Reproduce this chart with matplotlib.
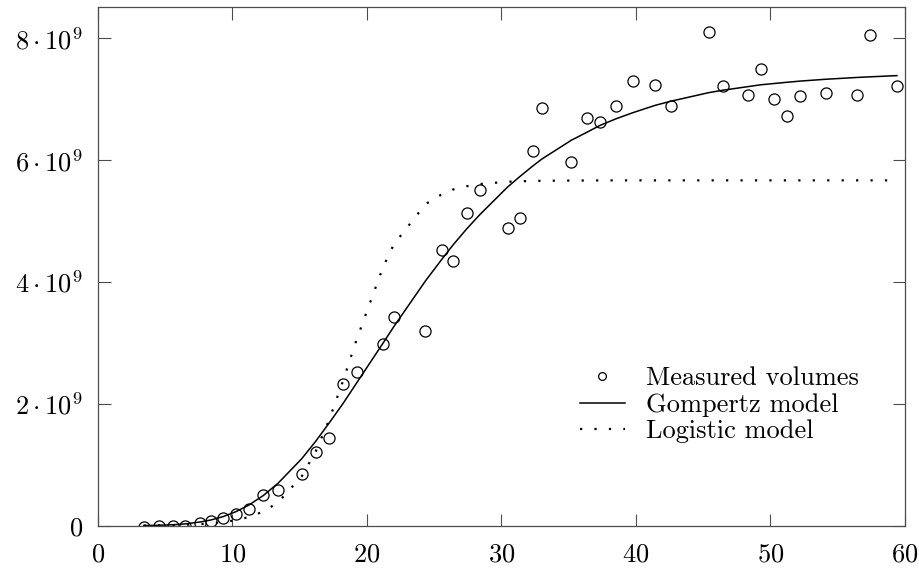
import matplotlib
matplotlib.use('Agg')
import matplotlib.pyplot as plt

plt.rcParams['font.family'] = 'serif'
plt.rcParams['font.serif'] = ['cmr10']
plt.rcParams['mathtext.fontset'] = 'cm'
plt.rcParams['axes.unicode_minus'] = False

# measured tumour volumes (time, volume in units of 1e9)
days = [3.4, 4.5, 5.6, 6.5, 7.6, 8.4, 9.3, 10.25, 11.2, 12.3, 13.4, 15.15, 16.2, 17.2,
        18.2, 19.25, 21.2, 22.0, 24.35, 25.55, 26.4, 27.4, 28.4, 30.45, 31.35, 32.35,
        33.0, 35.2, 36.35, 37.3, 38.5, 39.75, 41.4, 42.6, 45.4, 46.45, 48.35, 49.3,
        50.25, 51.2, 52.2, 54.1, 56.45, 57.4, 59.4]
measured = [-0.02, 0.0, 0.0, 0.0, 0.04, 0.08, 0.13, 0.2, 0.28, 0.5, 0.58, 0.85, 1.21, 1.44,
            2.32, 2.52, 2.99, 3.42, 3.2, 4.53, 4.35, 5.13, 5.52, 4.88, 5.06, 6.15,
            6.86, 5.97, 6.69, 6.63, 6.89, 7.3, 7.24, 6.89, 8.1, 7.22, 7.07, 7.5,
            7.01, 6.73, 7.06, 7.1, 7.07, 8.06, 7.22]
# model values at the same times
gompertz = [0.002, 0.007, 0.016, 0.03, 0.061, 0.094, 0.149, 0.23, 0.336, 0.497, 0.70, 1.10,
            1.39, 1.69, 2.0, 2.35, 3.0, 3.27, 4.02, 4.37, 4.61, 4.87, 5.11, 5.56, 5.73,
            5.91, 6.02, 6.33, 6.46, 6.57, 6.68, 6.78, 6.9, 6.97, 7.11, 7.15, 7.21, 7.24,
            7.26, 7.28, 7.3, 7.33, 7.36, 7.37, 7.39]
logistic = [0.004, 0.006, 0.01, 0.015, 0.026, 0.038, 0.058, 0.09, 0.14, 0.233, 0.384, 0.812,
            1.226, 1.745, 2.366, 3.07, 4.25, 4.62, 5.28, 5.44, 5.52, 5.573, 5.61, 5.647,
            5.655, 5.661, 5.663, 5.667, 5.668, 5.669, 5.67, 5.67, 5.67, 5.67, 5.67, 5.67,
            5.67, 5.67, 5.67, 5.67, 5.67, 5.67, 5.67, 5.67, 5.67]

scale = 1e9
fig = plt.figure(figsize=(9.2, 5.69), dpi=100)
ax = fig.add_axes([0.1065, 0.0761, 0.8772, 0.9109])

ax.plot(days, [v * scale for v in measured], 'o', mfc='none', mec='black',
        ms=8, mew=0.9, label='Measured volumes')
ax.plot(days, [v * scale for v in gompertz], '-', color='black', lw=1.1,
        label='Gompertz model')
ax.plot(days, [v * scale for v in logistic], color='black', lw=1.6,
        linestyle=(0, (1, 5.5)), dash_capstyle='butt', label='Logistic model')

ax.set_xlim(0, 60)
ax.set_ylim(0, 8.51e9)
ax.set_xticks(range(0, 61, 10))
ax.set_yticks([0, 2e9, 4e9, 6e9, 8e9])
ax.set_yticklabels(['$0$', r'$2\cdot10^9$', r'$4\cdot10^9$', r'$6\cdot10^9$', r'$8\cdot10^9$'])
ax.set_xticklabels(['$%d$' % t for t in range(0, 61, 10)])
ax.tick_params(direction='in', length=9, width=0.8, top=True, right=True,
               labelsize=19, color='0.3')
ax.tick_params(axis='x', pad=12)
ax.tick_params(axis='y', pad=11)
for s in ax.spines.values():
    s.set_color('0.3')
    s.set_linewidth(0.9)

leg = ax.legend(loc='center left', bbox_to_anchor=(0.581, 0.233), frameon=False,
                fontsize=19, handlelength=1.7, handletextpad=0.8, labelspacing=0.1,
                borderpad=0, markerscale=0.7)

fig.savefig('out.png', dpi=100)
